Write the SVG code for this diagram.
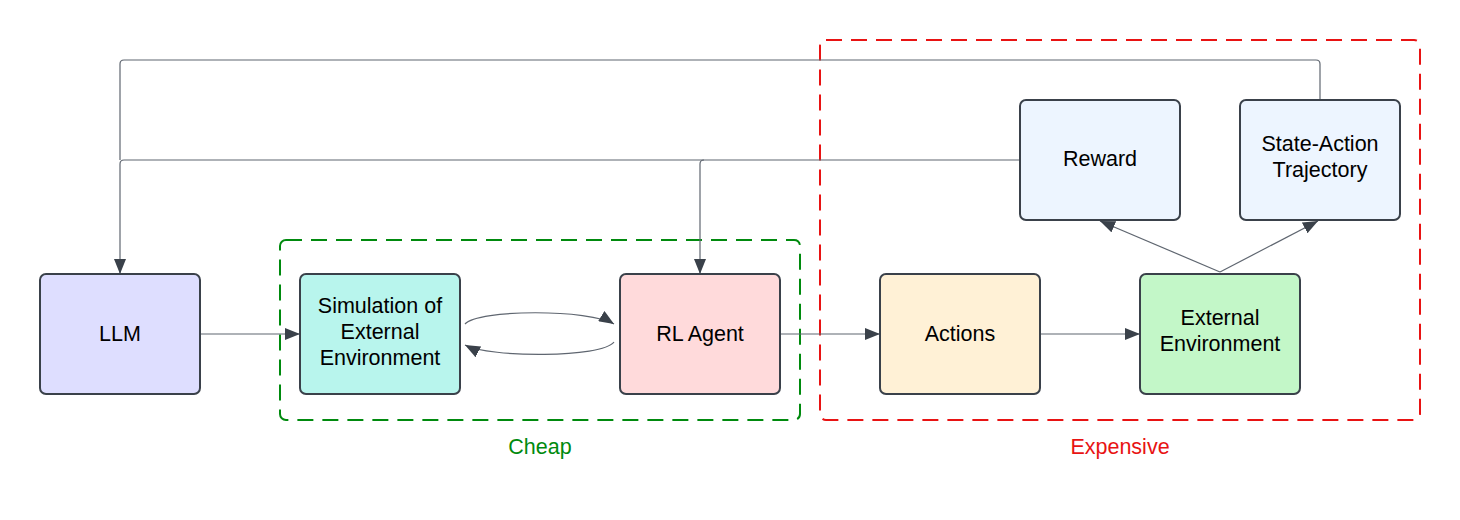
<svg xmlns="http://www.w3.org/2000/svg" width="1460" height="520" viewBox="0 0 1460 520">
<defs>
<marker id="arr" markerUnits="userSpaceOnUse" markerWidth="15" markerHeight="12" refX="15" refY="6" orient="auto">
<path d="M0,0 L15,6 L0,12 z" fill="#3a414a"/>
</marker>
<style>
.node rect{stroke:#3a414a;stroke-width:2}
.lbl{font-family:"Liberation Sans",Arial,sans-serif;font-size:21.5px;fill:#000;text-anchor:middle}
.conn path{fill:none;stroke:#5f6670;stroke-width:1.2}
.grp{fill:none;stroke-width:2;stroke-dasharray:16 9}
</style>
</defs>
<rect width="1460" height="520" fill="#fff"/>
<g id="group-cheap">
<rect class="grp" x="280" y="240" width="520" height="180" rx="6" stroke="#008a0e"/>
<text class="lbl" x="540" y="454" style="fill:#008a0e">Cheap</text>
</g>
<g id="group-expensive">
<rect class="grp" x="820" y="40" width="600" height="380" rx="6" stroke="#e81313"/>
<text class="lbl" x="1120" y="454" style="fill:#e81313">Expensive</text>
</g>
<g id="connectors" class="conn">
<path d="M200,334 H300" marker-end="url(#arr)"/>
<path d="M465,324 C478,309 590,309 614,324" marker-end="url(#arr)"/>
<path d="M614,342 C602,358 490,358 465,345" marker-end="url(#arr)"/>
<path d="M780,334 H880" marker-end="url(#arr)"/>
<path d="M1040,334 H1140" marker-end="url(#arr)"/>
<path d="M1220,272 L1100,221" marker-end="url(#arr)"/>
<path d="M1220,272 L1318,221" marker-end="url(#arr)"/>
<path d="M1020,160 H124 Q120,160 120,164 V274" marker-end="url(#arr)"/>
<path d="M704,160 Q700,160 700,164 V274" marker-end="url(#arr)"/>
<path d="M1320,100 V64 Q1320,60 1316,60 H124 Q120,60 120,64 V160"/>
</g>
<g id="llm" class="node">
<rect x="40" y="274" width="160" height="120" rx="6" fill="#dedeff"/>
<text class="lbl" x="120" y="341">LLM</text>
</g>
<g id="simulation" class="node">
<rect x="300" y="274" width="160" height="120" rx="6" fill="#b8f5ed"/>
<text class="lbl" x="380" y="313">Simulation of</text>
<text class="lbl" x="380" y="339">External</text>
<text class="lbl" x="380" y="365">Environment</text>
</g>
<g id="rl-agent" class="node">
<rect x="620" y="274" width="160" height="120" rx="6" fill="#ffdadb"/>
<text class="lbl" x="700" y="341">RL Agent</text>
</g>
<g id="actions" class="node">
<rect x="880" y="274" width="160" height="120" rx="6" fill="#fff1d6"/>
<text class="lbl" x="960" y="341">Actions</text>
</g>
<g id="external-environment" class="node">
<rect x="1140" y="274" width="160" height="120" rx="6" fill="#c3f7c8"/>
<text class="lbl" x="1220" y="325">External</text>
<text class="lbl" x="1220" y="351">Environment</text>
</g>
<g id="reward" class="node">
<rect x="1020" y="100" width="160" height="120" rx="6" fill="#edf5ff"/>
<text class="lbl" x="1100" y="166">Reward</text>
</g>
<g id="state-action" class="node">
<rect x="1240" y="100" width="160" height="120" rx="6" fill="#edf5ff"/>
<text class="lbl" x="1320" y="151">State-Action</text>
<text class="lbl" x="1320" y="177">Trajectory</text>
</g>
</svg>
